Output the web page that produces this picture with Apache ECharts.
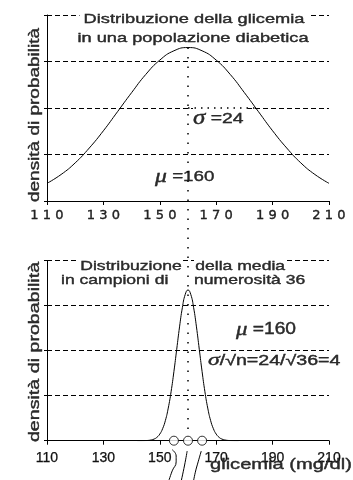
<!DOCTYPE html>
<html><head><meta charset="utf-8">
<script src="https://cdn.jsdelivr.net/npm/echarts@6/dist/echarts.min.js"></script>
<style>html,body{margin:0;padding:0;background:#fff}#c{width:353px;height:480px}</style>
</head><body><div id="c"></div>
<script>
// ---- data ----
const xTicks = [110, 130, 150, 170, 190, 210];
const popX = [110,115,120,125,130,135,140,145,150,155,160,165,170,175,180,185,190,195,200,205,210];
const popDensity = [0.38,0.57,0.82,1.14,1.51,1.92,2.33,2.72,3.03,3.23,3.30,3.23,3.03,2.72,2.33,1.92,1.51,1.14,0.82,0.57,0.38];
const meanX = [142,143,144,145,146,147,148,149,150,151,152,153,154,155,156,157,158,159,160,161,162,163,164,165,166,167,168,169,170,171,172,173,174,175,176,177,178];
const meanDensity = [0,0,0.001,0.003,0.007,0.017,0.037,0.076,0.147,0.267,0.453,0.725,1.088,1.534,2.032,2.529,2.956,3.247,3.35,3.247,2.956,2.529,2.032,1.534,1.088,0.725,0.453,0.267,0.147,0.076,0.037,0.017,0.007,0.003,0.001,0,0];
const mu = 160;
const sigmaLineX = [160, 184];
const sigmaLineY = 2;
const muLineTop = 3.3, muLineBottom = -4.97;
const sampleMeans = [155, 160, 165];
const leader1 = [[154.4,-0.2],[155.8,-0.34],[155.8,-0.47],[154.4,-0.67],[152.9,-0.95]];
const leader2 = [[159.7,-0.23],[158.8,-0.54],[157.4,-0.95]];
const leader3 = [[164.7,-0.23],[163.6,-0.47],[162.6,-0.70],[161.8,-0.95]];

const chart = echarts.init(document.getElementById('c'));
const black = '#000';
const dashGrid = {show:true, lineStyle:{color:black, width:1, type:[5,3]}};
function xAxis(gi, label){
  return {type:'value', gridIndex:gi, min:110, max:210, interval:20,
    axisLine:{show:true, onZero:false, lineStyle:{color:black, width:1}},
    axisTick:{show:true, length:4, lineStyle:{color:black}},
    splitLine:{show:false}, axisLabel:label};
}
function yAxis(gi){
  return {type:'value', gridIndex:gi, min:0, max:4, interval:1,
    axisLine:{show:true, onZero:false, lineStyle:{color:black, width:1}},
    axisTick:{show:true, length:3, lineStyle:{color:black}},
    axisLabel:{show:false}, splitLine:dashGrid};
}
const lineS = (data, gi, extra) => Object.assign({type:'line', xAxisIndex:gi, yAxisIndex:gi, data, symbol:'none',
  lineStyle:{color:black, width:1}, silent:true, animation:false}, extra||{});

const txtFill = '#2a2a2a', txtStroke = '#000', txtLW = 0.35;
function T(text, x, y, opt){
  opt = opt || {};
  return {type:'text', x, y, z:1, zlevel:0, rotation:opt.rot||0, scaleX:opt.sx||1, scaleY:1,
    style:Object.assign({text, fill:txtFill, stroke:txtStroke, lineWidth:txtLW,
      fontSize:opt.fs||13, fontFamily:opt.ff||'Liberation Sans',
      align:opt.align||'left', textAlign:opt.align||'left', verticalAlign:'middle', textVerticalAlign:'middle'}, opt.style||{})};
}
const greek = (fs) => ({fontSize:fs, fontStyle:'italic', fontFamily:'Liberation Serif', fill:txtFill, stroke:txtStroke, lineWidth:txtLW});
const plain = (fs) => ({fontSize:fs, fontFamily:'Liberation Sans', fill:txtFill, stroke:txtStroke, lineWidth:txtLW});

chart.setOption({
  animation:false,
  grid:[{left:47, right:24, top:15, height:186}, {left:47, right:24, top:260.7, height:180}],
  xAxis:[
    xAxis(0, {margin:8, color:'#222',
      formatter:v => String(v).split('').map(c => '{d|' + c + '}').join(''),
      rich:{d:{width:12.5, align:'center', fontFamily:'DejaVu Sans', fontSize:13, color:'#222', textBorderColor:'#000', textBorderWidth:0.35}}}),
    xAxis(1, {margin:10, color:'#111', fontFamily:'Liberation Sans', fontSize:14, textBorderColor:'#000', textBorderWidth:0.25})
  ],
  yAxis:[yAxis(0), yAxis(1)],
  series:[
    lineS(popX.map((x,i)=>[x, popDensity[i]]), 0, {smooth:true, z:5}),
    lineS([[mu, muLineTop],[mu, muLineBottom]], 0, {clip:false, z:6, lineStyle:{color:black, width:1.5, type:[1.5,8]}}),
    lineS([[sigmaLineX[0], sigmaLineY],[sigmaLineX[1], sigmaLineY]], 0, {z:6, lineStyle:{color:black, width:1.5, type:[1.5,5]}}),
    lineS(meanX.map((x,i)=>[x, meanDensity[i]]), 1, {smooth:true, z:5}),
    lineS(leader1, 1, {clip:false, smooth:true}),
    lineS(leader2, 1, {clip:false, smooth:true}),
    lineS(leader3, 1, {clip:false, smooth:true}),
    {type:'scatter', xAxisIndex:1, yAxisIndex:1, data:sampleMeans.map(x=>[x,0]), symbol:'circle', symbolSize:9,
      itemStyle:{color:'#fff', borderColor:black, borderWidth:1}, z:8, silent:true, animation:false, clip:false}
  ],
  graphic:{elements:[
    T('Distribuzione della glicemia', 194, 19, {align:'center', fs:13.5, sx:1.35, style:{backgroundColor:'#fff', padding:[1,3]}}),
    T('in una popolazione diabetica', 193, 38, {align:'center', fs:13.5, sx:1.35, style:{backgroundColor:'#fff', padding:[1,3]}}),
    T('densità di probabilità', 35, 115, {align:'center', fs:15, sx:1.265, rot:Math.PI/2}),
    T('densità di probabilità', 35, 352, {align:'center', fs:15, sx:1.31, rot:Math.PI/2}),
    T('{s|σ}{t| =24}', 193, 116, {sx:1.25, style:{backgroundColor:'#fff', padding:[6,3,1,0],
      rich:{s:greek(20), t:plain(15.5)}}}),
    T('{m|μ}{t| =160}', 155, 177, {sx:1.25, style:{rich:{m:greek(19), t:plain(15)}}}),
    T('Distribuzione', 79, 266, {fs:13.5, sx:1.3, style:{backgroundColor:'#fff', padding:[2,1,0,1]}}),
    T('della media', 194, 266, {fs:13.5, sx:1.3, style:{backgroundColor:'#fff', padding:[2,1,0,1]}}),
    T('in campioni di', 61, 280, {fs:13.5, sx:1.3}),
    T('numerosità 36', 194, 280, {fs:13.5, sx:1.3}),
    T('{m|μ}{t| =160}', 236, 330, {sx:1.2, style:{rich:{m:greek(19), t:plain(16)}}}),
    T('{s|σ}{t|/√n=24/√36=4}', 208, 361, {sx:1.4, style:{rich:{s:greek(17), t:plain(14)}}}),
    T('glicemia (mg/dl)', 210, 465, {fs:15, sx:1.34})
  ]}
});
</script></body></html>
